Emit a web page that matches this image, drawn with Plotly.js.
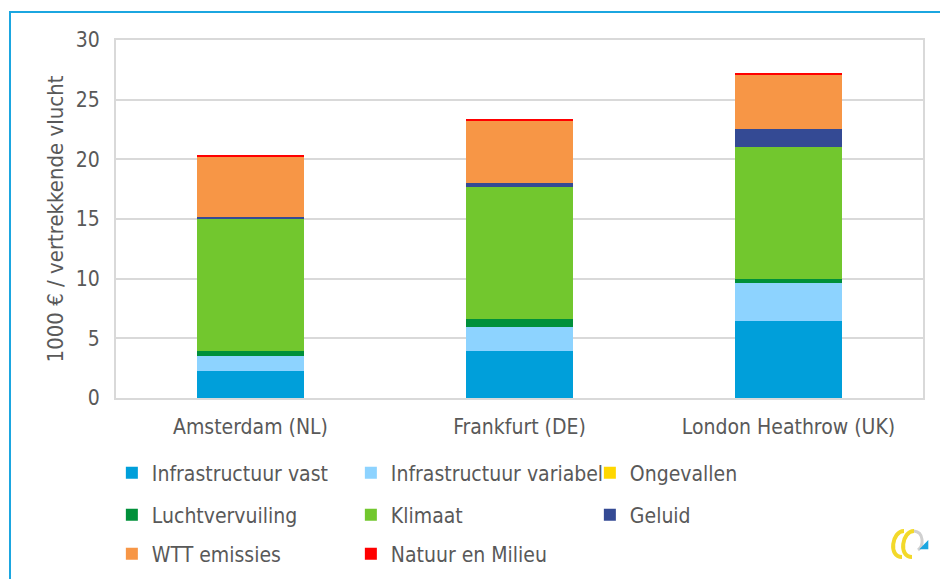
<!DOCTYPE html>
<html>
<head>
<meta charset="utf-8">
<script src="https://cdn.plot.ly/plotly-3.0.1.min.js"></script>
<style>
  html, body { margin: 0; padding: 0; background: #fff; }
  #wrap { position: relative; width: 940px; height: 579px; overflow: hidden; }
  #chart { width: 940px; height: 579px; }
  #frame { position: absolute; left: 9px; top: 11px; width: 1000px; height: 1000px;
           border-left: 2px solid #1BA6E0; border-top: 2px solid #1BA6E0; pointer-events: none; }
  #logo { position: absolute; left: 880px; top: 520px; width: 60px; height: 45px; pointer-events: none; }
</style>
</head>
<body>
<div id="wrap">
  <div id="chart"></div>
  <div id="frame"></div>
  <svg id="logo" viewBox="0 0 60 45">
    <path d="M24 11 C12 11 8 37 22 37" fill="none" stroke="#F3D92A" stroke-width="4"/>
    <path d="M34 11 C22 11 18 37 32 37" fill="none" stroke="#F3D92A" stroke-width="4"/>
    <path d="M34 11 C44 12 44 26 38 30" fill="none" stroke="#D0D0D0" stroke-width="3"/>
    <path d="M39.3 29.3 L48.3 29.3 L48.3 20 Z" fill="#1BA6E0"/>
  </svg>
</div>
<script>
const categories = ["Amsterdam (NL)", "Frankfurt (DE)", "London Heathrow (UK)"];

const infraVast      = [2.25, 3.96, 6.45];
const infraVariabel  = [1.25, 2.00, 3.20];
const ongevallen     = [0.02, 0.02, 0.02];
const luchtvervuiling= [0.45, 0.67, 0.30];
const klimaat        = [11.03, 11.06, 11.10];
const geluid         = [0.20, 0.34, 1.48];
const wttEmissies    = [5.03, 5.15, 4.52];
const natuurMilieu   = [0.14, 0.18, 0.15];

const seriesNames = ["Infrastructuur vast", "Infrastructuur variabel", "Ongevallen",
                     "Luchtvervuiling", "Klimaat", "Geluid", "WTT emissies", "Natuur en Milieu"];
const seriesValues = [infraVast, infraVariabel, ongevallen, luchtvervuiling,
                      klimaat, geluid, wttEmissies, natuurMilieu];
const seriesColors = ["#009FDA", "#8DD3FF", "#FFD700", "#00903A",
                      "#72C72E", "#344A94", "#F79646", "#FF0000"];
const legendRow = ["legend", "legend", "legend", "legend2", "legend2", "legend2", "legend3", "legend3"];

const yTickVals = [0, 5, 10, 15, 20, 25, 30];

const FONT = "'DejaVu Sans Condensed', 'DejaVu Sans', sans-serif";
const GREY = "#595959";

const traces = seriesNames.map((name, i) => ({
  type: "bar",
  name: name,
  x: categories,
  y: seriesValues[i],
  legend: legendRow[i],
  marker: { color: seriesColors[i], line: { width: 0 } },
  hoverinfo: "name+y"
}));

function legendAt(y) {
  return {
    orientation: "h",
    traceorder: "normal",
    xref: "container", yref: "container",
    x: 0.119, xanchor: "left",
    y: y, yanchor: "middle",
    entrywidth: 194, entrywidthmode: "pixels",
    itemwidth: 30,
    bgcolor: "rgba(0,0,0,0)",
    font: { family: FONT, color: GREY, size: 21 }
  };
}

const layout = {
  width: 940, height: 579,
  margin: { l: 116, r: 17, t: 40, b: 181 },
  barmode: "stack",
  bargap: 0.6,
  paper_bgcolor: "#fff",
  plot_bgcolor: "#fff",
  font: { family: FONT, color: GREY, size: 21 },
  showlegend: true,
  legend: legendAt(0.1831),
  legend2: legendAt(0.1105),
  legend3: legendAt(0.0432),
  xaxis: {
    type: "category",
    showgrid: false,
    showline: true, mirror: true, linecolor: "#D9D9D9", linewidth: 2,
    ticks: "",
    tickfont: { family: FONT, color: GREY, size: 21 },
    ticklabelstandoff: 9,
    fixedrange: true
  },
  yaxis: {
    range: [0, 30],
    tickvals: yTickVals,
    showgrid: true, gridcolor: "#D9D9D9", gridwidth: 2,
    showline: true, mirror: true, linecolor: "#D9D9D9", linewidth: 2,
    zeroline: false,
    ticks: "",
    tickfont: { family: FONT, color: GREY, size: 21 },
    ticklabelstandoff: 10,
    title: { text: "1000 € / vertrekkende vlucht", font: { family: FONT, color: GREY, size: 22 }, standoff: 6 },
    fixedrange: true
  }
};

Plotly.newPlot("chart", traces, layout, { displayModeBar: false, staticPlot: true });
</script>
</body>
</html>
